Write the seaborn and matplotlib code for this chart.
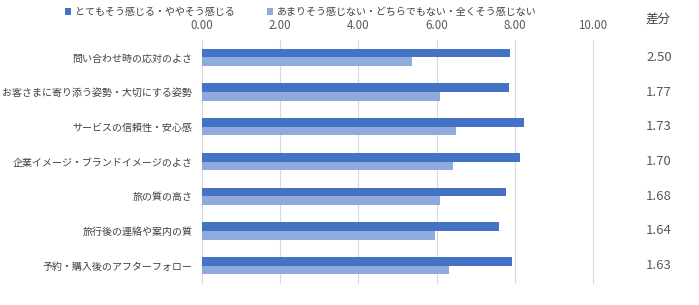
import matplotlib
matplotlib.use("Agg")
import matplotlib.pyplot as plt
import matplotlib.transforms as mtransforms
from matplotlib.patches import Patch
import seaborn as sns
import pandas as pd

categories = [
    "問い合わせ時の応対のよさ",
    "お客さまに寄り添う姿勢・大切にする姿勢",
    "サービスの信頼性・安心感",
    "企業イメージ・ブランドイメージのよさ",
    "旅の質の高さ",
    "旅行後の連絡や案内の質",
    "予約・購入後のアフターフォロー",
]
series_names = ["とてもそう感じる・ややそう感じる", "あまりそう感じない・どちらでもない・全くそう感じない"]
positive = [7.87, 7.85, 8.23, 8.13, 7.77, 7.59, 7.94]
negative = [5.37, 6.08, 6.50, 6.43, 6.09, 5.95, 6.31]
diff_labels = ["2.50", "1.77", "1.73", "1.70", "1.68", "1.64", "1.63"]
xticks = [0, 2, 4, 6, 8, 10]
colors = ["#4472C4", "#8FAADC"]

sns.set_theme(style="white")
plt.rcParams["font.family"] = ["Noto Sans CJK JP", "DejaVu Sans"]

df = pd.DataFrame({
    "category": categories * 2,
    "series": [series_names[0]] * len(categories) + [series_names[1]] * len(categories),
    "value": positive + negative,
})

fig = plt.figure(figsize=(6.99, 3.05), dpi=100)
ax = fig.add_axes([202 / 699, 1 - 283 / 305, (593 - 202) / 699, (283 - 40) / 305])

sns.barplot(data=df, y="category", x="value", hue="series", order=categories,
            hue_order=series_names, palette=colors, orient="h", width=0.5,
            dodge=True, ax=ax, legend=False, saturation=1, edgecolor="none")

ax.set_xlim(0, 10)
ax.set_xticks(xticks)
ax.set_xticklabels([f"{t:.2f}" for t in xticks])
ax.xaxis.tick_top()
ax.tick_params(axis="x", length=0, labelsize=8.3, labelcolor="#595959", pad=6)
ax.tick_params(axis="y", length=0, labelsize=7.2, labelcolor="#404040", pad=7)
ax.set_xlabel("")
ax.set_ylabel("")
ax.grid(axis="x", color="#D9D9D9", linewidth=0.8)
for gl in ax.get_xgridlines():
    gl.set_clip_on(False)
ax.set_axisbelow(True)
for s in ax.spines.values():
    s.set_visible(False)

trans = mtransforms.blended_transform_factory(fig.transFigure, ax.transData)
for i, lab in enumerate(diff_labels):
    ax.text(672 / 699, i, lab, transform=trans, ha="right", va="center",
            fontsize=9.5, color="#595959")
fig.text(658 / 699, 1 - 19 / 305, "差分", ha="center", va="center", fontsize=9, color="#404040")

handles = [Patch(facecolor=c, edgecolor="none") for c in colors]
fig.legend(handles, series_names, loc="center left", bbox_to_anchor=(65 / 699, 1 - 12 / 305),
           ncol=2, frameon=False, fontsize=7.2, handlelength=0.6, handleheight=0.6,
           handletextpad=0.4, columnspacing=3.2, borderaxespad=0, borderpad=0,
           labelcolor="#404040")

fig.savefig("out.png", dpi=100)
